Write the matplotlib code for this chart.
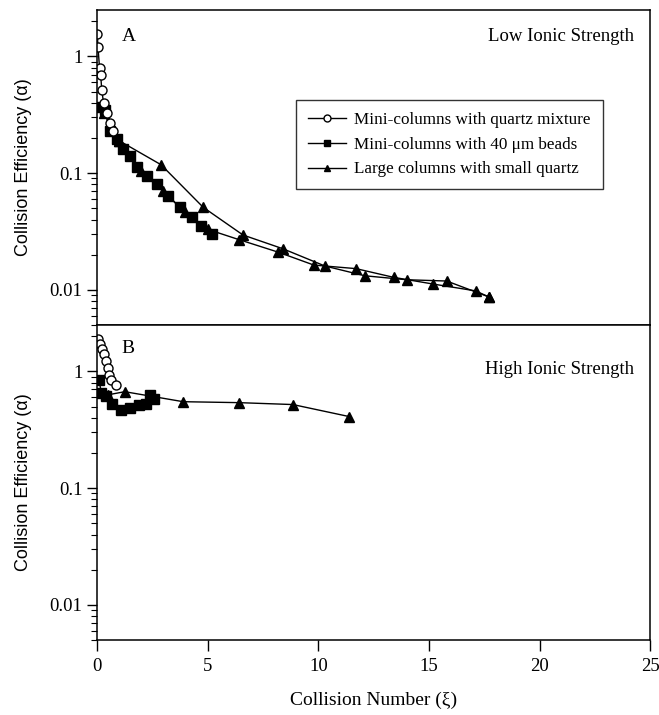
import matplotlib
matplotlib.use("Agg")
import matplotlib.pyplot as plt
from matplotlib.ticker import LogLocator, NullFormatter, FixedLocator, FixedFormatter

plt.rcParams['font.family'] = ['Liberation Serif', 'DejaVu Serif']

# ---- panel A: low ionic strength ----
a_quartz_x = [0.02, 0.05, 0.12, 0.17, 0.22, 0.30, 0.45, 0.60, 0.75]
a_quartz_y = [1.55, 1.20, 0.80, 0.70, 0.52, 0.40, 0.33, 0.27, 0.23]

a_beads_x = [0.14, 0.36, 0.59, 0.90, 1.17, 1.49, 1.80, 2.26, 2.70, 3.20, 3.75, 4.30, 4.70, 5.20]
a_beads_y = [0.37, 0.35, 0.23, 0.195, 0.16, 0.14, 0.113, 0.094, 0.080, 0.064, 0.051, 0.042, 0.035, 0.030]

a_large1_x = [0.35, 1.0, 2.9, 4.8, 6.6, 8.4, 10.3, 12.1, 14.0, 15.8, 17.7]
a_large1_y = [0.36, 0.19, 0.118, 0.051, 0.0295, 0.0225, 0.016, 0.0132, 0.0122, 0.0119, 0.0087]
a_large2_x = [0.30, 1.0, 2.0, 3.0, 4.0, 5.0, 6.4, 8.2, 9.8, 11.7, 13.4, 15.2, 17.1, 17.7]
a_large2_y = [0.33, 0.19, 0.105, 0.070, 0.046, 0.033, 0.027, 0.021, 0.0163, 0.0152, 0.0128, 0.0112, 0.0098, 0.0087]

# ---- panel B: high ionic strength ----
b_quartz_x = [0.05, 0.15, 0.25, 0.30, 0.40, 0.50, 0.55, 0.65, 0.85]
b_quartz_y = [1.91, 1.73, 1.57, 1.40, 1.22, 1.06, 0.94, 0.85, 0.77]

b_beads_x = [0.10, 0.20, 0.40, 0.70, 1.10, 1.50, 1.90, 2.20, 2.40, 2.60]
b_beads_y = [0.85, 0.65, 0.62, 0.53, 0.47, 0.49, 0.52, 0.53, 0.63, 0.58]

b_large_x = [0.5, 1.26, 3.9, 6.4, 8.85, 11.4]
b_large_y = [0.63, 0.67, 0.55, 0.54, 0.52, 0.41]

labels = ["Mini-columns with quartz mixture",
          "Mini-columns with 40 \u03bcm beads",
          "Large columns with small quartz"]
y_ticks = [0.01, 0.1, 1]
y_tick_labels = ["0.01", "0.1", "1"]
x_ticks = [0, 5, 10, 15, 20, 25]

fig = plt.figure(figsize=(6.59, 7.15), dpi=100)
ax_a = fig.add_axes([0.147, 0.5455, 0.84, 0.4405])
ax_b = fig.add_axes([0.147, 0.105, 0.84, 0.4405])

line_kw = dict(color='black', lw=1.0)
ms = 6.5


def style_axis(ax):
    ax.set_yscale('log')
    ax.set_ylim(0.005, 2.5)
    ax.set_xlim(0, 25)
    ax.yaxis.set_major_locator(FixedLocator(y_ticks))
    ax.yaxis.set_major_formatter(FixedFormatter(y_tick_labels))
    ax.yaxis.set_minor_locator(LogLocator(base=10, subs=range(2, 10)))
    ax.yaxis.set_minor_formatter(NullFormatter())
    ax.tick_params(axis='y', which='major', direction='out', length=7, width=1.0,
                   labelsize=13.5, right=False)
    ax.tick_params(axis='y', which='minor', direction='out', length=4, width=0.8, right=False)
    for s in ax.spines.values():
        s.set_linewidth(1.1)
    ax.set_ylabel("Collision Efficiency (\u03b1)", fontsize=13,
                  family=['Liberation Sans Narrow', 'Liberation Sans', 'DejaVu Sans'])
    ax.yaxis.set_label_coords(-0.118, 0.5)


# panel A
ax_a.plot(a_large1_x, a_large1_y, marker='^', ms=ms, mfc='black', mec='black', **line_kw)
ax_a.plot(a_large2_x, a_large2_y, marker='^', ms=ms, mfc='black', mec='black', **line_kw)
ax_a.plot(a_beads_x, a_beads_y, marker='s', ms=ms, mfc='black', mec='black', **line_kw)
ax_a.plot(a_quartz_x, a_quartz_y, marker='o', ms=ms, mfc='white', mec='black', mew=1.0, **line_kw)
style_axis(ax_a)
ax_a.set_xticks([])
ax_a.text(0.045, 0.915, "A", transform=ax_a.transAxes, fontsize=14, va='center')
ax_a.text(0.97, 0.915, "Low Ionic Strength", transform=ax_a.transAxes, fontsize=13.5,
          ha='right', va='center')

# legend
h1, = ax_a.plot([], [], marker='o', ms=5, mfc='white', mec='black', **line_kw)
h2, = ax_a.plot([], [], marker='s', ms=5, mfc='black', mec='black', **line_kw)
h3, = ax_a.plot([], [], marker='^', ms=5, mfc='black', mec='black', **line_kw)
leg = ax_a.legend([h1, h2, h3], labels, loc='upper left', bbox_to_anchor=(0.345, 0.74),
                  fontsize=12.3, frameon=True, fancybox=False, edgecolor='black',
                  handlelength=2.2, handletextpad=0.5, labelspacing=0.5, borderpad=0.7)
leg.get_frame().set_linewidth(1.0)

# panel B
ax_b.plot(b_large_x, b_large_y, marker='^', ms=ms, mfc='black', mec='black', **line_kw)
ax_b.plot(b_beads_x, b_beads_y, marker='s', ms=ms, mfc='black', mec='black', **line_kw)
ax_b.plot(b_quartz_x, b_quartz_y, marker='o', ms=ms, mfc='white', mec='black', mew=1.0, **line_kw)
style_axis(ax_b)
ax_b.set_xticks(x_ticks)
ax_b.tick_params(axis='x', direction='out', length=8, width=1.0, labelsize=13.5, pad=5, top=False)
ax_b.text(0.045, 0.925, "B", transform=ax_b.transAxes, fontsize=14, va='center')
ax_b.text(0.97, 0.86, "High Ionic Strength", transform=ax_b.transAxes, fontsize=13.5,
          ha='right', va='center')
ax_b.set_xlabel("Collision Number (\u03be)", fontsize=14, labelpad=12)

fig.savefig("out.png", dpi=100)
